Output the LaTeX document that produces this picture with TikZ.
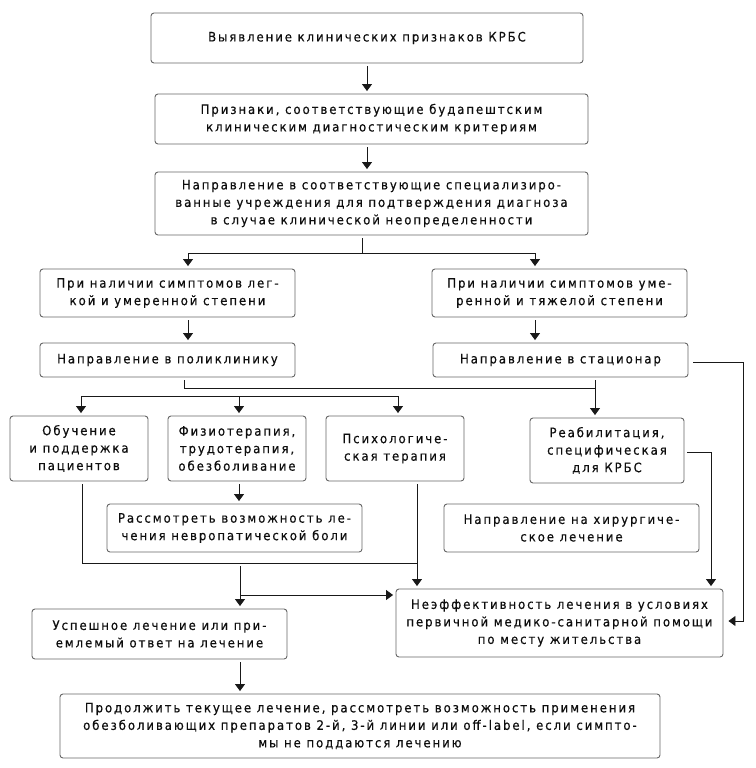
\documentclass[tikz,border=0pt]{standalone}
\usepackage{fontspec}
\setmainfont{DejaVu Sans Condensed}[LetterSpace=15,FakeBold=0.4]
\usetikzlibrary{arrows.meta}
\begin{document}
\begin{tikzpicture}[x=1pt,y=-1pt,
  box/.style={draw=black!60, line width=0.9pt, rounded corners=3pt, align=center,
    inner sep=0pt, text=black!95, font=\fontsize{13}{17.5}\selectfont},
  conn/.style={draw=black!90, line width=0.9pt},
  arr/.style={conn, -{Triangle[width=10pt,length=7pt]}, shorten >=2.5pt},
  fromb/.style={shorten <=3pt}]
\useasboundingbox (0,0) rectangle (755,768);
\fill[white] (0,0) rectangle (755,768);

\node[box, minimum width=432, minimum height=50] (b1) at (367,38) {Выявление клинических признаков КРБС};
\node[box, minimum width=433, minimum height=50] (b2) at (371.5,119) {Признаки, соответствующие будапештским\\клиническим диагностическим критериям};
\node[box, minimum width=433, minimum height=63] (b3) at (371.5,203.5) {Направление в соответствующие специализиро-\\ванные учреждения для подтверждения диагноза\\в случае клинической неопределенности};
\node[box, minimum width=255, minimum height=48] (L1) at (167.5,293) {При наличии симптомов лег-\\кой и умеренной степени};
\node[box, minimum width=255, minimum height=48] (R1) at (559.5,293) {При наличии симптомов уме-\\ренной и тяжелой степени};
\node[box, minimum width=255, minimum height=34] (L2) at (167.5,360) {Направление в поликлинику};
\node[box, minimum width=255, minimum height=34] (R2) at (560.5,360) {Направление в стационар};
\node[box, minimum width=138, minimum height=65] (A) at (79,448.5) {Обучение\\и поддержка\\пациентов};
\node[box, minimum width=138, minimum height=65] (B) at (237,448.5) {Физиотерапия,\\трудотерапия,\\обезболивание};
\node[box, minimum width=138, minimum height=65] (C) at (395,448.5) {Психологиче-\\ская терапия};
\node[box, minimum width=154, minimum height=65] (D) at (607,450.5) {Реабилитация,\\специфическая\\для КРБС};
\node[box, minimum width=255, minimum height=48] (E) at (234.5,528) {Рассмотреть возможность ле-\\чения невропатической боли};
\node[box, minimum width=255, minimum height=48] (F) at (571.5,528) {Направление на хирургиче-\\ское лечение};
\node[box, minimum width=327, minimum height=68] (G) at (559.5,623) {Неэффективность лечения в условиях\\первичной медико-санитарной помощи\\по месту жительства};
\node[box, minimum width=255, minimum height=50] (H) at (159.5,634) {Успешное лечение или при-\\емлемый ответ на лечение};
\node[box, minimum width=600, minimum height=64] (I) at (360,726) {Продолжить текущее лечение, рассмотреть возможность применения\\обезболивающих препаратов 2-й, 3-й линии или off-label, если симпто-\\мы не поддаются лечению};

% top chain
\draw[arr, fromb] (b1.south) -- (b1.south |- b2.north);
\draw[arr, fromb] (b1.south |- b2.south) -- (b1.south |- b3.north);
% split
\coordinate (j0) at (362,253);
\coordinate (jl) at (188,253);
\coordinate (jr) at (535,253);
\draw[conn, fromb] (b3.south -| j0) -- (j0);
\draw[conn] (jl) -- (jr);
\draw[arr] (jl) -- (jl |- L1.north);
\draw[arr] (jr) -- (jr |- R1.north);
\draw[arr, fromb] (L1.south -| jl) -- (L2.north -| jl);
\draw[arr, fromb] (R1.south -| jr) -- (R2.north -| jr);
% buses
\coordinate (p0) at (184,388);
\coordinate (p1) at (595,388);
\draw[conn, fromb] (L2.south -| p0) -- (p0) -- (p1);
\draw[arr, fromb] (R2.south -| p1) -- (D.north -| p1);
\coordinate (q0) at (81,396);
\coordinate (q1) at (239,396);
\coordinate (q2) at (398,396);
\draw[conn] (q0) -- (q2);
\draw[arr] (q0) -- (A.north -| q0);
\draw[arr] (q1) -- (B.north -| q1);
\draw[arr] (q2) -- (C.north -| q2);
% lower
\draw[arr, fromb] (B.south -| q1) -- (E.north -| q1);
\coordinate (r0) at (82,563);
\coordinate (r1) at (417,563);
\draw[conn, fromb] (A.south -| r0) -- (r0) -- (r1);
\draw[arr, fromb] (C.south -| r1) -- (G.north -| r1);
\coordinate (s0) at (240,566);
\coordinate (s1) at (240,595);
\draw[arr] (s0) -- (H.north -| s0);
\draw[arr] (s1) -- (G.west |- s1);
\draw[arr, fromb] (H.south -| s0) -- (I.north -| s0);
% right side
\coordinate (t0) at (711,452);
\draw[arr, fromb] (D.east |- t0) -- (t0) -- (G.north -| t0);
\coordinate (u0) at (743,362);
\coordinate (u1) at (743,621);
\draw[arr, shorten <=5pt, shorten >=5pt] (R2.east |- u0) -- (u0) -- (u1) -- (G.east |- u1);
\end{tikzpicture}
\end{document}
